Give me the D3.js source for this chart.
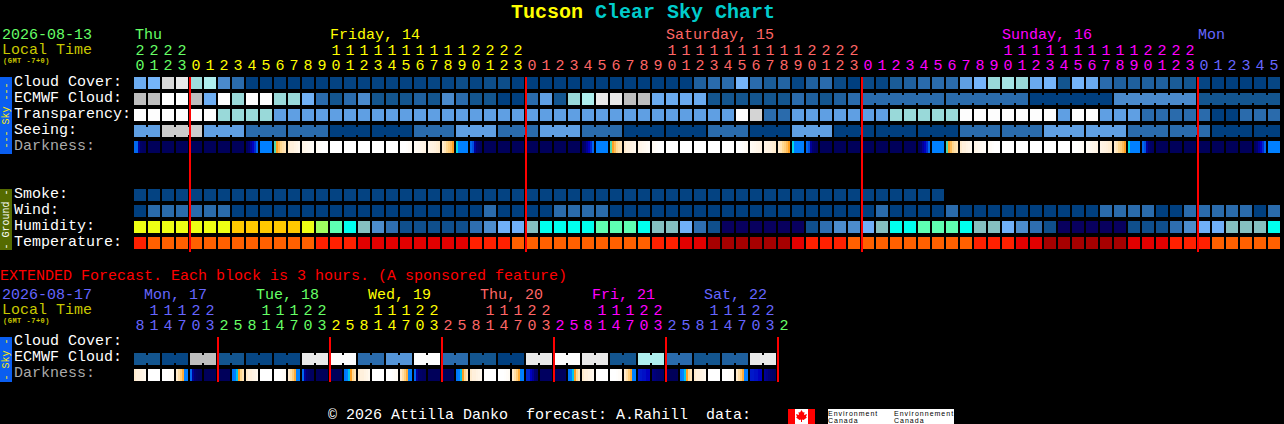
<!DOCTYPE html>
<html>
<head>
<meta charset="utf-8">
<script src="https://cdnjs.cloudflare.com/ajax/libs/d3/7.8.5/d3.min.js"></script>
<style>
  html, body { margin: 0; padding: 0; background: #000; overflow: hidden; }
  svg { display: block; }
  text { font-family: "Liberation Mono", monospace; font-size: 15px; white-space: pre; }
</style>
</head>
<body>
<div id="chart"></div>
<script>
// hours of the hourly forecast, one per column
var hours = [20,21,22,23,
  0,1,2,3,4,5,6,7,8,9,10,11,12,13,14,15,16,17,18,19,20,21,22,23,
  0,1,2,3,4,5,6,7,8,9,10,11,12,13,14,15,16,17,18,19,20,21,22,23,
  0,1,2,3,4,5,6,7,8,9,10,11,12,13,14,15,16,17,18,19,20,21,22,23,
  0,1,2,3,4,5];
var dayLabels = ['Thu', 'Friday, 14', 'Saturday, 15', 'Sunday, 16', 'Mon'];
var dayCols = [0, 14, 38, 62, 76];

var cloud = [4.6,5,8.6,9,6.3,7,3,2,0,0,
  0,0,0,0,.2,.2,.2,.2,.2,.2,
  .2,.3,.3,.7,.3,.7,.7,0,0,0,
  0,0,0,0,0,0,0,0,0,0,
  1.5,2,2,5,2,1.3,1.7,.3,1.5,2,
  .5,0,.5,.3,1.3,1.5,2,2,2,4,
  5,6,6.5,6,4.5,5,1,5,4.5,2,
  1.5,1.5,1.5,1.5,1.3,1,.3,0,0,0,
  0,.3];
var ecmwf = [8,8,10,10,8,4.7,10,6,10,10,
  6,6,4.8,2,1,2,3,1,1,1,
  1.5,1,3,2,1,1,0,0,2,4,
  1,6,7,9,9,8,8,4.5,4.5,4.5,
  4.5,1,1,1,1,1,1,2,1.5,1,
  1.5,2,2,2,2,2,2,2,2,2,
  2,2,2,2,0,0,0,0,0,0,
  3,3,3,3,3,3,1,1,1,1,
  1,1];
var transparency = [10,10,10,10,10,10,6,6,6,6,
  4,4,4,4,4,4,4,4,4,4,
  4,4,4,4,4,4,4,4,4,4,
  4,4,4,4,4,4,4,4,4,4,
  4,4,4,10,8.5,2,2,4,4,4,
  4,4,4,4,6,6,6,6,6,10,
  10,10,10,10,10,10,4,10,10,4,
  4,4,2,2,2,2,2,0,0,2,
  2,2];
var seeing = [4,4,
  8.3,8.3,8.3, 4,4,4, 2,2,2, 2,2,2, 0,0,0, 0,0,0, 2,2,2, 4,4,4, 2,2,2,
  4,4,4, 2,2,2, 0,0,0, 0,0,0, 2,2,2, 0,0,0, 4,4,4, 0,0,0, 0,0,0, 0,0,0,
  2,2,2, 2,2,2, 4,4,4, 4,4,4, 2,2,2, 2,2,2, 0,0,0,
  0,0];

// darkness cells: one number is a flat cell, a list runs left to right across it
var night = .3;
var dawnEnd = [.5,1,1.5,2,2.5,3.5];
var dawnStart = [5.8,7,7.5,8,8.3,8.5];
var duskEnd = [8.8,8.5,8,7.8,7.5,7];
var duskStart = [5,4,4,4,4,4];
var duskFade = [3.5,3,1.5,1,.7,.5];
var creamUp = [8.8,9,9,9.2,9.3,9.5];
var creamUp2 = [9.3,9.4,9.5,9.6,9.7,9.8];
var creamUp3 = [9.7,9.8,9.9,10,10,10];
var creamDown = [10,10,10,9.9,9.8,9.7];
var creamDown2 = [9.7,9.6,9.5,9.4,9.3,9.2];
var creamDown3 = [9.3,9.2,9.1,9,8.9,8.8];
var darkness = [[3.5,3.5,1.5,.7,.5,.5],night,night,night,night,night,night,night,dawnEnd,4,
  dawnStart,creamUp,creamUp2,creamUp3,10,10,10,10,10,creamDown,
  creamDown2,creamDown3,duskEnd,duskStart,duskFade,night,night,night,night,night,
  night,night,dawnEnd,4,dawnStart,creamUp,creamUp2,creamUp3,10,10,
  10,10,10,creamDown,creamDown2,creamDown3,duskEnd,duskStart,duskFade,night,
  night,night,night,night,night,night,dawnEnd,4,dawnStart,creamUp,
  creamUp2,creamUp3,10,10,10,10,10,creamDown,creamDown2,creamDown3,
  duskEnd,duskStart,duskFade,night,night,night,night,night,night,night,
  dawnEnd,4];

var smoke = [.2,.2,.2,.2,.2,.2,.2,.2,.2,.2,
  .2,.2,.2,.2,.2,.2,.2,.2,.2,.2,
  .2,.2,.2,.2,.2,.2,.2,.2,.2,.2,
  .2,.2,.2,.2,.2,.2,.2,.2,.2,.2,
  .2,.2,.2,.2,.2,.2,.2,.2,.2,.2,
  .2,.2,.2,.2,.2,.2,.2,.2];
var wind = [0,2,2,2,2,2,2,0,0,0,
  0,0,0,0,0,0,0,0,0,0,
  0,0,0,0,0,2,0,0,0,0,
  2,2,2,2,0,0,0,0,0,0,
  0,0,0,0,0,0,0,0,0,0,
  0,0,0,2,0,0,0,0,2,0,
  0,0,0,0,0,0,0,0,0,2,
  2,2,2,0,0,2,2,2,2,2,
  0,2];
var humidity = [9,9,9,9,9,9,9,10,10,10,
  10,10,9,8,7,6,5,3,2,1,
  1,1,1,1,2,3,4,4,5,6,
  6,6,6,7,7,7,6,5,5,4,
  2,1,0,0,0,0,0,0,1,2,
  3,3,4,5,6,6,7,7,7,6,
  5,5,4,3,2,1,0,0,0,0,
  0,1,1,1,2,3,4,4,5,5,
  5,6];
var temperature = [2,3,3,3,3,3,3,3,3,3,
  3,3,3,2,2,2,1,1,1,1,
  1,1,1,1,2,2,2,3,3,3,
  3,3,3,3,3,3,3,2,2,1,
  1,0,0,0,0,0,0,1,2,2,
  2,3,3,3,3,3,3,3,3,3,
  2,2,2,1,1,0,0,0,0,0,
  0,1,1,1,2,2,2,3,3,3,
  3,3];

// extended forecast, 3 hours per column
var extHours = [8,11,14,17,20,23,
  2,5,8,11,14,17,20,23,
  2,5,8,11,14,17,20,23,
  2,5,8,11,14,17,20,23,
  2,5,8,11,14,17,20,23,
  2,5,8,11,14,17,20,23,
  2];
var extDayLabels = ['Mon, 17', 'Tue, 18', 'Wed, 19', 'Thu, 20', 'Fri, 21', 'Sat, 22'];
var extDayCols = [1, 9, 17, 25, 33, 41];
var extEcmwf = [1,1,.3,.3,8,8,1,1,.3,.3,
  .3,.3,9,9,10,10,2,2,3.5,3.5,
  10,10,2,2,1,1,0,0,9,9,
  10,10,9,9,1,1,7,7,2,2,
  1,1,1.5,1.5,9,9];
var extDawn = [3.8,4,4.8,7,8,8.5];
var extDusk = [8.8,8.3,7.8,7.2,4,4];
var extDarkness = [creamUp,10,creamDown,extDusk,[3.5,1.5,1,.7,.5,.5],night,night,extDawn,
  creamUp,10,creamDown,extDusk,[3.5,1.5,1,.7,.5,.5],night,night,extDawn,
  creamUp,10,creamDown,extDusk,[3.5,1.5,1,.7,.5,.5],night,night,extDawn,
  creamUp,10,creamDown,extDusk,[2.5,2.5,2,1.5,1,.7],.5,.4,extDawn,
  creamUp,10,creamDown,extDusk,[2.3,2.3,2.2,2.2,2,2],[1.2,1.1,1,.9,.8,.7],night,extDawn,
  creamUp,10,creamDown,extDusk,[2.3,2.3,2.2,2.2,2,2],[1.5,1.3,1.1,.9,.7,.5]];

var dayColors = ['#66ff66', '#ffff00', '#ff6666', '#ff00ff', '#6666ff'];
var cloudColors = ['#003f7f','#13558f','#2a6bac','#4a8acc','#5f9fe3','#75b5fa','#99d9d9','#aeeeee','#bebebe','#e9e9e9','#fdfdfd'];
var humidityColors = ['#08005e','#0f4f8c','#2e6eb0','#4c8ccc','#70b0f8','#85c0c0','#00ffee','#5effb2','#a0ff60','#eeff14','#ffc800'];
var temperatureColors = ['#a60000','#e30000','#ff2000','#ff6000'];
var darknessColors = ['#000050','#000070','#0000c0','#0050e0','#0080ff','#00d8e8','#60d8a0','#ffa020','#ffd890','#fff0dc','#ffffff'];

var width = 1284, height = 424;
var cellSize = 12;

function levelScale(colors) {
  return d3.scaleLinear().domain(d3.range(colors.length)).range(colors).interpolate(d3.interpolateRgb);
}
var cloudColor = levelScale(cloudColors);
var humidityColor = levelScale(humidityColors);
var temperatureColor = levelScale(temperatureColors);
var darknessColor = levelScale(darknessColors);

var x = d3.scaleLinear().domain([0, 82]).range([134, 134 + 82 * 14]);

var svg = d3.select('#chart').append('svg')
  .attr('width', width)
  .attr('height', height)
  .style('background', '#000');

function label(str, px, py, color) {
  return svg.append('text')
    .attr('x', px).attr('y', py)
    .attr('fill', color)
    .text(str);
}

function tinyLabel(str, px, py) {
  return svg.append('text')
    .attr('x', px).attr('y', py)
    .attr('fill', '#c8c800')
    .style('font-size', '7px')
    .style('font-weight', 'bold')
    .style('letter-spacing', '0.5px')
    .text(str);
}

// flat cell row, neighbours of the same block get a narrow joint
function cellRow(values, y, color, joined) {
  var g = svg.append('g').attr('shape-rendering', 'crispEdges');
  g.selectAll('rect.cell').data(values).join('rect')
    .attr('class', 'cell')
    .attr('x', function(d, i) { return x(i); })
    .attr('y', y)
    .attr('width', cellSize)
    .attr('height', cellSize)
    .attr('fill', function(d) { return color(d); });
  if (joined) {
    g.selectAll('rect.joint').data(values.slice(0, -1)).join('rect')
      .attr('class', 'joint')
      .attr('x', function(d, i) { return x(i) + cellSize; })
      .attr('y', y + 2)
      .attr('width', x(1) - x(0) - cellSize)
      .attr('height', cellSize - 4)
      .attr('fill', function(d) { return color(d); })
      .attr('display', function(d, i) { return joined(i) ? null : 'none'; });
  }
}

function darknessRow(values, y) {
  var g = svg.append('g').attr('shape-rendering', 'crispEdges');
  values.forEach(function(v, i) {
    var stops = Array.isArray(v) ? v : [v];
    var w = cellSize / stops.length;
    g.selectAll(null).data(stops).enter().append('rect')
      .attr('x', function(d, k) { return x(i) + k * w; })
      .attr('y', y)
      .attr('width', w)
      .attr('height', cellSize)
      .attr('fill', function(d) { return darknessColor(d); });
  });
}

function hourRows(list, tensY, unitsY, startDay) {
  var day = startDay;
  list.forEach(function(h, i) {
    if (i > 0 && h < list[i - 1]) day++;
    var c = dayColors[day % dayColors.length];
    if (h >= 10) {
      label(Math.floor(h / 10), x(i) + 6, tensY, c).attr('text-anchor', 'middle');
    }
    label(h % 10, x(i) + 6, unitsY, c).attr('text-anchor', 'middle');
  });
}

function sideBar(y, h, color, textColor, str) {
  svg.append('rect').attr('x', 0).attr('y', y).attr('width', 12).attr('height', h)
    .attr('fill', color).attr('shape-rendering', 'crispEdges');
  svg.append('text')
    .attr('transform', 'translate(9,' + (y + h / 2) + ') rotate(-90)')
    .attr('text-anchor', 'middle')
    .attr('fill', textColor)
    .style('font-size', '10px')
    .text(str);
}

// title
svg.append('text').attr('x', width / 2 + 1).attr('y', 18)
  .attr('text-anchor', 'middle')
  .style('font-size', '20px').style('font-weight', 'bold')
  .call(function(t) {
    t.append('tspan').attr('fill', '#ffff00').text('Tucson');
    t.append('tspan').attr('fill', '#00cccc').text(' Clear Sky Chart');
  });

// main header
label('2026-08-13', 2, 39, dayColors[0]);
label('Local Time', 2, 54, '#c8c800');
tinyLabel('(GMT -7+0)', 3, 63);
dayLabels.forEach(function(d, i) {
  label(d, x(dayCols[i]) + (i === 0 ? 1 : 0), 39, dayColors[i]);
});
hourRows(hours, 55, 70, 0);

// main rows
var skyNames = ['Cloud Cover:', 'ECMWF Cloud:', 'Transparency:', 'Seeing:', 'Darkness:'];
var skyY = [77, 93, 109, 125, 141];
skyNames.forEach(function(n, i) {
  label(n, 14, skyY[i] + 9, i === 4 ? '#aaaaaa' : '#ffffff');
});
cellRow(cloud, skyY[0], cloudColor);
cellRow(ecmwf, skyY[1], cloudColor, function(i) { return i >= 52 && (i - 52) % 6 !== 5; });
cellRow(transparency, skyY[2], cloudColor);
cellRow(seeing, skyY[3], cloudColor, function(i) { return i === 0 || (i >= 2 && (i - 2) % 3 !== 2); });
darknessRow(darkness, skyY[4]);
sideBar(77, 77, '#0a5ef0', '#ffee00', '--- Sky ---');

var groundNames = ['Smoke:', 'Wind:', 'Humidity:', 'Temperature:'];
var groundY = [189, 205, 221, 237];
groundNames.forEach(function(n, i) { label(n, 14, groundY[i] + 9, '#ffffff'); });
cellRow(smoke, groundY[0], cloudColor);
cellRow(wind, groundY[1], cloudColor);
cellRow(humidity, groundY[2], humidityColor);
cellRow(temperature, groundY[3], temperatureColor);
sideBar(189, 61, '#556b00', '#ffffff', '- Ground -');

// midnight lines
svg.selectAll('rect.midnight')
  .data(hours.map(function(h, i) { return h === 0 ? i : -1; }).filter(function(i) { return i >= 0; }))
  .join('rect')
  .attr('class', 'midnight')
  .attr('x', function(d) { return x(d) - 1; })
  .attr('y', 77)
  .attr('width', 2)
  .attr('height', 175)
  .attr('fill', '#ff0000')
  .attr('shape-rendering', 'crispEdges');

// extended forecast
label('EXTENDED Forecast. Each block is 3 hours. (A sponsored feature)', 0, 280, '#ff0000');
label('2026-08-17', 2, 299, dayColors[4]);
label('Local Time', 2, 314, '#c8c800');
tinyLabel('(GMT -7+0)', 3, 323);
extDayLabels.forEach(function(d, i) {
  label(d, x(extDayCols[i]) - 4, 299, dayColors[(i + 4) % dayColors.length]);
});
hourRows(extHours, 315, 330, 4);

['Cloud Cover:', 'ECMWF Cloud:', 'Darkness:'].forEach(function(n, i) {
  label(n, 14, 345 + i * 16, i === 2 ? '#aaaaaa' : '#ffffff');
});
cellRow(extEcmwf, 353, cloudColor, function(i) { return i % 2 === 0; });
darknessRow(extDarkness, 369);
sideBar(337, 45, '#0a5ef0', '#ffee00', '- Sky -');

svg.selectAll('rect.daystart')
  .data(extHours.map(function(h, i) { return h === 2 ? i : -1; }).filter(function(i) { return i >= 0; }))
  .join('rect')
  .attr('class', 'daystart')
  .attr('x', function(d) { return x(d) - 1; })
  .attr('y', 337)
  .attr('width', 2)
  .attr('height', 45)
  .attr('fill', '#ff0000')
  .attr('shape-rendering', 'crispEdges');

// footer
label('\u00a9 2026 Attilla Danko  forecast: A.Rahill  data:', 328, 419, '#ffffff');

// Environment Canada logo
var logo = svg.append('g');
logo.append('rect').attr('x', 788).attr('y', 409).attr('width', 27).attr('height', 15).attr('fill', '#ffffff');
logo.append('rect').attr('x', 788).attr('y', 409).attr('width', 7).attr('height', 15).attr('fill', '#ff0000');
logo.append('rect').attr('x', 808).attr('y', 409).attr('width', 7).attr('height', 15).attr('fill', '#ff0000');
logo.append('path')
  .attr('d', 'M0,-6L1.5,-3.5L3,-4L2.5,-1L5.5,-2L4.5,1L5.5,1.5L2,4L.5,3.5V6H-.5V3.5L-2,4L-5.5,1.5L-4.5,1L-5.5,-2L-2.5,-1L-3,-4L-1.5,-3.5Z')
  .attr('transform', 'translate(801.5,416)').attr('fill', '#ff0000');
logo.append('rect').attr('x', 828).attr('y', 409).attr('width', 126).attr('height', 15).attr('fill', '#ffffff');
[['Environment', 'Canada', 828], ['Environnement', 'Canada', 894]].forEach(function(d) {
  [d[0], d[1]].forEach(function(s, i) {
    logo.append('text').attr('x', d[2]).attr('y', 416 + i * 7).attr('fill', '#000')
      .style('font-family', 'Liberation Sans').style('font-size', '7px').style('letter-spacing', '1px').text(s);
  });
});
</script>
</body>
</html>
